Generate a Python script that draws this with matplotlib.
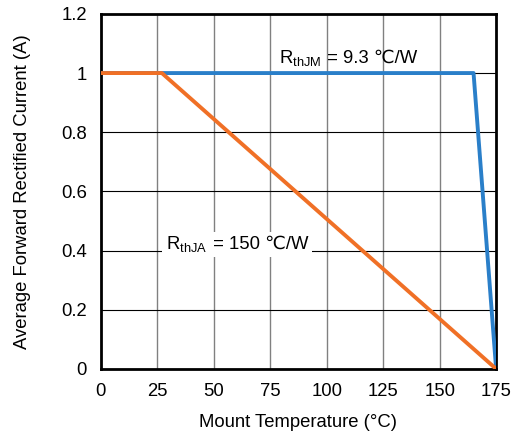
import matplotlib
matplotlib.use('Agg')
import matplotlib.pyplot as plt

plt.rcParams['font.family'] = ['Liberation Sans', 'DejaVu Sans']
plt.rcParams['mathtext.fontset'] = 'custom'
plt.rcParams['mathtext.rm'] = 'Liberation Sans'

# derating curves
temp_jm = [0, 165, 175]
curr_jm = [1.0, 1.0, 0.0]
temp_ja = [0, 27, 175]
curr_ja = [1.0, 1.0, 0.0]

x_ticks = [0, 25, 50, 75, 100, 125, 150, 175]
y_ticks = [0, 0.2, 0.4, 0.6, 0.8, 1.0, 1.2]
y_labels = ['0', '0.2', '0.4', '0.6', '0.8', '1', '1.2']

fs = 13.3

fig = plt.figure(figsize=(5.12, 4.34), dpi=100)
ax = fig.add_axes([0.197, 0.150, 0.772, 0.818])

for xt in x_ticks[1:-1]:
    ax.axvline(xt, color='#808080', lw=1.0, zorder=1)
for yt in y_ticks[1:-1]:
    ax.axhline(yt, color='black', lw=0.8, zorder=1)

ax.plot(temp_jm, curr_jm, color='#2a7fc9', lw=2.8, zorder=3)
ax.plot(temp_ja, curr_ja, color='#f07026', lw=2.8, zorder=3)


def rlabel(x, y, sub, rest, pad, boxed):
    # R with subscript drawn on top, the rest of the label next to it
    box = dict(facecolor='white', edgecolor='none', pad=pad) if boxed else None
    t1 = ax.text(x, y, r'R$_{\mathregular{' + sub + '}}$', fontsize=fs, va='baseline',
                 bbox=box, zorder=6)
    ax.annotate(rest, xy=(1, y), xycoords=(t1, 'data'), fontsize=fs, va='baseline',
                bbox=box, zorder=5)


rlabel(79, 1.035, 'thJM', ' = 9.3 ℃/W', 1, False)
rlabel(29, 0.405, 'thJA', ' = 150 ℃/W', 3, True)

ax.set_xlim(0, 175)
ax.set_ylim(0, 1.2)
ax.set_xticks(x_ticks)
ax.set_yticks(y_ticks)
ax.set_yticklabels(y_labels)
ax.tick_params(length=0, labelsize=fs, pad=10)
for s in ax.spines.values():
    s.set_linewidth(2)
    s.set_color('black')

ax.set_xlabel('Mount Temperature (°C)', fontsize=fs, labelpad=10)
ax.set_ylabel('Average Forward Rectified Current (A)', fontsize=fs, labelpad=22)

fig.savefig('out.png', dpi=100)
